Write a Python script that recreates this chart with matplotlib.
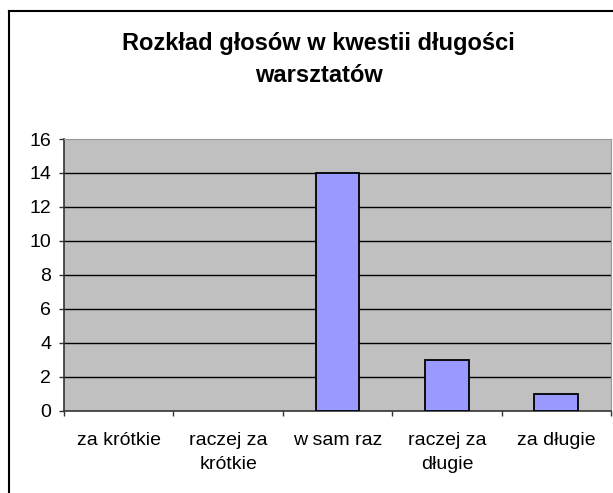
import matplotlib
matplotlib.use('Agg')
import matplotlib.pyplot as plt
from matplotlib.lines import Line2D
import numpy as np

plt.rcParams['font.family'] = ['Liberation Sans', 'DejaVu Sans']

TITLE_LINES = ['Rozkład głosów w kwestii długości', 'warsztatów']
CATEGORIES = ['za krótkie', 'raczej za\nkrótkie', 'w sam raz', 'raczej za\ndługie', 'za długie']
VOTES = [0, 0, 14, 3, 1]
Y_TICKS = [0, 2, 4, 6, 8, 10, 12, 14, 16]

W, H = 613, 493
fig = plt.figure(figsize=(W / 100, H / 100), dpi=100)

# axes box in pixel coords
left, right, top, bottom = 64, 611, 139, 410.5
ax = fig.add_axes([left / W, 1 - bottom / H, (right - left) / W, (bottom - top) / H])
ax.set_facecolor('#C0C0C0')

x = np.arange(len(CATEGORIES))
# empty categories get no outline (Excel draws nothing there)
edge_w = [1.3 if v > 0 else 0 for v in VOTES]
ax.bar(x, VOTES, width=0.4, color='#9999FF', edgecolor='black', linewidth=edge_w, zorder=3)

ax.set_xlim(-0.5, len(CATEGORIES) - 0.5)
ax.set_ylim(Y_TICKS[0], Y_TICKS[-1])

ax.set_yticks(Y_TICKS)
ax.set_yticklabels([str(v) for v in Y_TICKS])
for v in Y_TICKS[1:-1]:
    ax.axhline(v, color='black', linewidth=1.0, zorder=1)

ax.set_xticks(x)
ax.set_xticklabels(CATEGORIES, linespacing=1.5)
ax.set_xticks(np.arange(len(CATEGORIES) + 1) - 0.5, minor=True)

ax.tick_params(axis='y', direction='out', length=3.6, width=1, color='#333333',
               pad=5.5, labelsize=14)
ax.tick_params(axis='x', which='major', length=0, pad=15.5, labelsize=14)
ax.tick_params(axis='x', which='minor', direction='out', length=3.6, width=1, color='#333333')

for side in ['left', 'bottom']:
    ax.spines[side].set_color('#333333')
    ax.spines[side].set_linewidth(1.2)
for side in ['top', 'right']:
    ax.spines[side].set_color('#999999')
    ax.spines[side].set_linewidth(0.8)

# title, centered in chart area
fig.text(318.7 / W, 1 - 50 / H, TITLE_LINES[0], ha='center', va='baseline',
         fontsize=17, fontweight='bold')
fig.text(318.7 / W, 1 - 82 / H, TITLE_LINES[1], ha='center', va='baseline',
         fontsize=17, fontweight='bold')

# chart area border (right and bottom fall outside the image)
fig.add_artist(Line2D([8.5 / W, 1.0], [1 - 10.5 / H, 1 - 10.5 / H], color='black', linewidth=1.5))
fig.add_artist(Line2D([8.5 / W, 8.5 / W], [0.0, 1 - 10.5 / H], color='black', linewidth=1.5))

fig.savefig('out.png', dpi=100, facecolor='white')
